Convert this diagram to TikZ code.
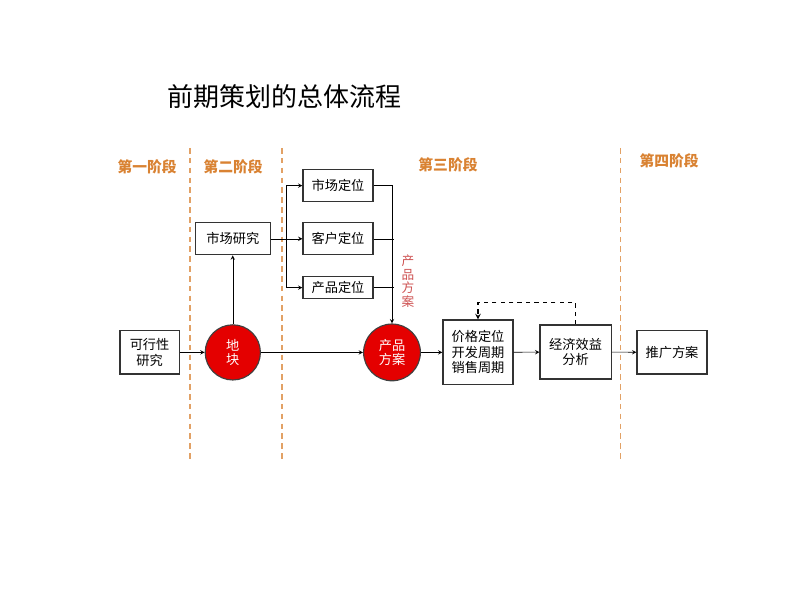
\documentclass[tikz,border=0pt]{standalone}
\usepackage{fontspec}
\setmainfont{Noto Sans CJK SC}
\usetikzlibrary{arrows}
\definecolor{arancio}{RGB}{217,130,50}
\definecolor{rosso}{RGB}{228,0,0}
\definecolor{nota}{RGB}{205,80,80}
\tikzset{
  blocco/.style={draw=black!80,line width=0.8pt,minimum width=1.75cm,inner sep=1pt,
    align=center,font=\fontsize{9.4}{11}\selectfont},
  cerchio/.style={circle,draw=black!75,line width=0.8pt,fill=rosso,minimum size=1.38cm,
    inner sep=0pt,align=center,text=white,font=\fontsize{9.4}{10.5}\selectfont},
  fase/.style={text=arancio,font=\fontsize{10.5}{12}\selectfont\bfseries},
  separa/.style={draw=arancio!75,dash pattern=on 4pt off 3pt,line width=0.8pt}
}
\begin{document}
\begin{tikzpicture}
    \useasboundingbox (0,0) rectangle (20,15);

    %%%%%%%%%% Titolo e fasi %%%%%%%%%%
    \node[font=\fontsize{18.5}{20}\selectfont] (titolo) at (7.12,12.58) {前期策划的总体流程};
    \node[fase] (fase1) at (3.68,10.83) {第一阶段};
    \node[fase] (fase2) at (5.83,10.83) {第二阶段};
    \node[fase] (fase3) at (11.2,10.88) {第三阶段};
    \node[fase] (fase4) at (16.73,10.98) {第四阶段};
    \draw[separa] (4.75,11.3) -- (4.75,3.5);
    \draw[separa] (7.05,11.3) -- (7.05,3.5);
    \draw[separa] (15.52,11.3) -- (15.52,3.5);

    %%%%%%%%%% Nodi %%%%%%%%%%
    \node[blocco,minimum width=1.48cm,minimum height=1.08cm] (fattibilita) at (3.74,6.19) {可行性\\研究};
    \node[cerchio] (lotto) at (5.82,6.19) {地\\块};
    \node[blocco,minimum width=1.88cm,minimum height=0.8cm] (ricerca) at (5.82,9.03) {市场研究};
    \node[blocco,minimum height=0.8cm] (mercato) at (8.45,10.36) {市场定位};
    \node[blocco,minimum height=0.8cm] (cliente) at (8.45,9.03) {客户定位};
    \node[blocco,minimum height=0.55cm] (posprod) at (8.45,7.81) {产品定位};
    \node[cerchio,minimum size=1.42cm] (prodotto) at (9.8,6.19) {产品\\方案};
    \node[text=nota,align=center,font=\fontsize{9}{9.6}\selectfont] (nota) at (10.2,7.97) {产\\品\\方\\案};
    \node[blocco,minimum height=1.62cm] (prezzo) at (11.95,6.19) {价格定位\\开发周期\\销售周期};
    \node[blocco,minimum width=1.78cm,minimum height=1.35cm] (economia) at (14.39,6.2) {经济效益\\分析};
    \node[blocco,minimum height=1.08cm] (promo) at (16.8,6.19) {推广方案};
    \coordinate (ramo) at (7.15,9.03);

    %%%%%%%%%% Frecce %%%%%%%%%%
    \draw[->,>=stealth] (fattibilita) -- (lotto);
    \draw[->,>=stealth] (lotto) -- (prodotto);
    \draw[->,>=stealth] (lotto) -- (ricerca);
    \draw[->,>=stealth] (ricerca) -- (cliente);
    \draw[->,>=stealth] (ramo) |- (mercato);
    \draw[->,>=stealth] (ramo) |- (posprod);
    \draw[->,>=stealth] (mercato) -| (prodotto);
    \draw (cliente) -- ([xshift=1.5pt]cliente -| prodotto);
    \draw (posprod) -- ([xshift=1.5pt]posprod -| prodotto);
    \draw[->,>=stealth] (prodotto) -- (prezzo);
    \draw[->,>=stealth] (prezzo) -- (economia);
    \draw[->,>=stealth] (economia) -- (promo);
    \draw[->,>=stealth,dashed,line width=0.8pt] (economia.north) -- ++(0,0.55) -| (prezzo.north);
\end{tikzpicture}
\end{document}
